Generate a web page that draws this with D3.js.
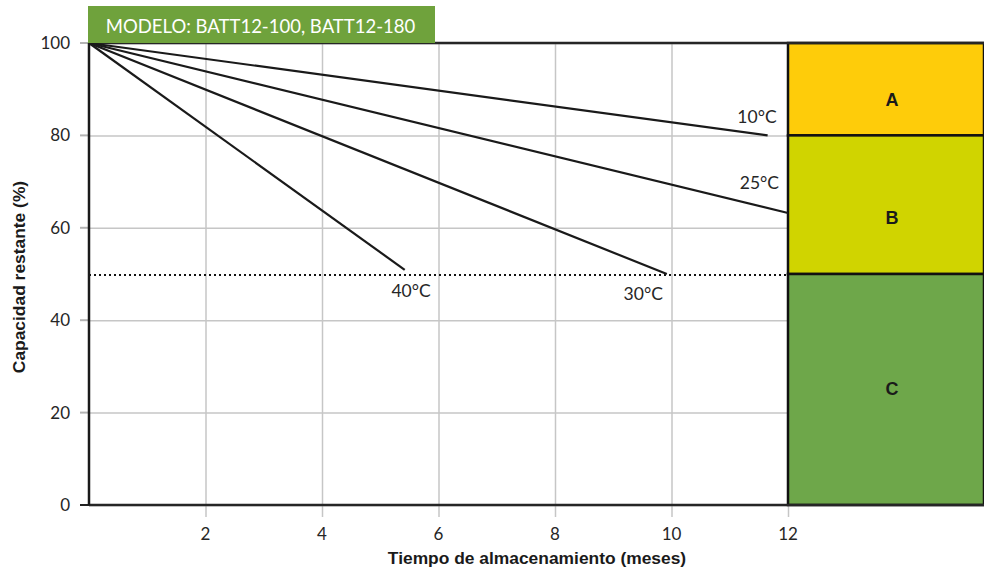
<!DOCTYPE html>
<html>
<head>
<meta charset="utf-8">
<script src="https://cdn.jsdelivr.net/npm/d3@7"></script>
<style>
  body { margin: 0; background: #fff; }
  svg { display: block; }
</style>
</head>
<body>
<div class="graphContainer"></div>
<script>
// size of the picture
const w = 984;
const h = 573;

// chart data
const xTicks = [2, 4, 6, 8, 10, 12];
const yTicks = [0, 20, 40, 60, 80, 100];
const temps = ["10°C", "25°C", "30°C", "40°C"];
const endMonth = [11.65, 12, 9.92, 5.42];
const endCap = [80, 63.2, 50, 50.9];
const zoneNames = ["A", "B", "C"];
const zoneTop = [100, 80, 50];
const zoneBottom = [80, 50, 0];
const zoneColors = ["#FECC0A", "#D0D400", "#6EA74A"];
const limitCap = 50;
const modelText = "MODELO: BATT12-100, BATT12-180";
const xTitle = "Tiempo de almacenamiento (meses)";
const yTitle = "Capacidad restante (%)";

const tickFont = "Lato, 'Open Sans', sans-serif";
const boldFont = "'Liberation Sans', Arial, sans-serif";

const svg = d3.select(".graphContainer").append("svg")
  .attr("width", w)
  .attr("height", h);

// scales: month 0 at x=89, 12 at x=788; 100% at y=43, 0% at y=505
const xScale = d3.scaleLinear().domain([0, 12]).range([89, 788]);
const yScale = d3.scaleLinear().domain([0, 100]).range([505, 43]);
const xRight = w;

// vertical grid (goes down a bit past the axis like ticks)
const xAxis = d3.axisBottom(xScale)
  .tickValues(xTicks)
  .tickSize(462 + 12)
  .tickFormat("");
svg.append("g")
  .attr("transform", "translate(0," + yScale(100) + ")")
  .call(xAxis)
  .call(g => g.select(".domain").remove())
  .call(g => g.selectAll("line").attr("stroke", "#c6c6c6").attr("stroke-width", 1.5));

// horizontal grid
const yAxis = d3.axisLeft(yScale)
  .tickValues(yTicks)
  .tickSize(-(xScale(12) - xScale(0)))
  .tickFormat("");
svg.append("g")
  .attr("transform", "translate(" + xScale(0) + ",0)")
  .call(yAxis)
  .call(g => g.select(".domain").remove())
  .call(g => g.selectAll("line").attr("stroke", "#c6c6c6").attr("stroke-width", 1.5));

// small left ticks
svg.append("g")
  .selectAll("line")
  .data(yTicks)
  .enter()
  .append("line")
  .attr("x1", xScale(0) - 9)
  .attr("x2", xScale(0))
  .attr("y1", d => yScale(d))
  .attr("y2", d => yScale(d))
  .attr("stroke", d => d === 0 ? "#222" : "#b4b4b4")
  .attr("stroke-width", 2);

// tick labels
svg.append("g")
  .selectAll("text")
  .data(yTicks)
  .enter()
  .append("text")
  .attr("x", xScale(0) - 19)
  .attr("y", d => yScale(d) + 6)
  .attr("text-anchor", "end")
  .style("font-family", tickFont)
  .style("font-size", "17px")
  .style("fill", "#262626")
  .text(d => d);

svg.append("g")
  .selectAll("text")
  .data(xTicks)
  .enter()
  .append("text")
  .attr("x", d => xScale(d))
  .attr("y", 540)
  .attr("text-anchor", "middle")
  .style("font-family", tickFont)
  .style("font-size", "17px")
  .style("fill", "#262626")
  .text(d => d);

// coloured zones after month 12
svg.append("g")
  .selectAll("rect")
  .data(zoneNames)
  .enter()
  .append("rect")
  .attr("x", xScale(12))
  .attr("y", (d, i) => yScale(zoneTop[i]))
  .attr("width", xRight - xScale(12))
  .attr("height", (d, i) => yScale(zoneBottom[i]) - yScale(zoneTop[i]))
  .style("fill", (d, i) => zoneColors[i])
  .style("stroke", "#111")
  .style("stroke-width", 2.5);

// letter offsets from the middle of each zone
const zoneDy = [17, 19, 5];
svg.append("g")
  .selectAll("text")
  .data(zoneNames)
  .enter()
  .append("text")
  .attr("x", (xScale(12) + xRight) / 2 + 6)
  .attr("y", (d, i) => (yScale(zoneTop[i]) + yScale(zoneBottom[i])) / 2 + zoneDy[i])
  .attr("text-anchor", "middle")
  .style("font-family", boldFont)
  .style("font-weight", "bold")
  .style("font-size", "18px")
  .style("fill", "#1a1a1a")
  .text(d => d);

// dotted 50% limit
svg.append("line")
  .attr("x1", xScale(0))
  .attr("x2", xScale(12))
  .attr("y1", yScale(limitCap) + 1)
  .attr("y2", yScale(limitCap) + 1)
  .attr("stroke", "#111")
  .attr("stroke-width", 2)
  .attr("stroke-dasharray", "2,3");

// frame
svg.append("line")
  .attr("x1", xScale(0)).attr("x2", xRight)
  .attr("y1", yScale(100)).attr("y2", yScale(100))
  .attr("stroke", "#262626").attr("stroke-width", 2.5);
svg.append("line")
  .attr("x1", xScale(0)).attr("x2", xRight)
  .attr("y1", yScale(0)).attr("y2", yScale(0))
  .attr("stroke", "#262626").attr("stroke-width", 2.5);
svg.append("line")
  .attr("x1", xScale(0)).attr("x2", xScale(0))
  .attr("y1", yScale(100)).attr("y2", yScale(0))
  .attr("stroke", "#1a1a1a").attr("stroke-width", 2.5);

// storage lines
svg.append("g")
  .selectAll("line")
  .data(temps)
  .enter()
  .append("line")
  .attr("x1", xScale(0))
  .attr("y1", yScale(100))
  .attr("x2", (d, i) => xScale(endMonth[i]))
  .attr("y2", (d, i) => yScale(endCap[i]))
  .attr("stroke", "#1a1a1a")
  .attr("stroke-width", 2.2);

// temperature labels
const labelDx = [9, -9, -4, 26];
const labelDy = [-12, -24, 26, 27];
svg.append("g")
  .selectAll("text")
  .data(temps)
  .enter()
  .append("text")
  .attr("x", (d, i) => xScale(endMonth[i]) + labelDx[i])
  .attr("y", (d, i) => yScale(endCap[i]) + labelDy[i])
  .attr("text-anchor", "end")
  .style("font-family", tickFont)
  .style("font-size", "17.5px")
  .style("fill", "#262626")
  .text(d => d);

// model banner
svg.append("rect")
  .attr("x", 88)
  .attr("y", 6)
  .attr("width", 347)
  .attr("height", yScale(100) - 6)
  .style("fill", "#6FA23C");
svg.append("text")
  .attr("x", 88 + 347 / 2 - 1)
  .attr("y", 33)
  .attr("text-anchor", "middle")
  .style("font-family", tickFont)
  .style("font-size", "18.5px")
  .style("fill", "#fff")
  .text(modelText);

// axis titles
svg.append("text")
  .attr("x", 537)
  .attr("y", 564)
  .attr("text-anchor", "middle")
  .style("font-family", boldFont)
  .style("font-weight", "bold")
  .style("font-size", "17.4px")
  .style("fill", "#1a1a1a")
  .text(xTitle);

svg.append("text")
  .attr("transform", "translate(25," + (yScale(50) + 3) + ") rotate(-90)")
  .attr("text-anchor", "middle")
  .style("font-family", boldFont)
  .style("font-weight", "bold")
  .style("font-size", "17.4px")
  .style("fill", "#1a1a1a")
  .text(yTitle);
</script>
</body>
</html>
